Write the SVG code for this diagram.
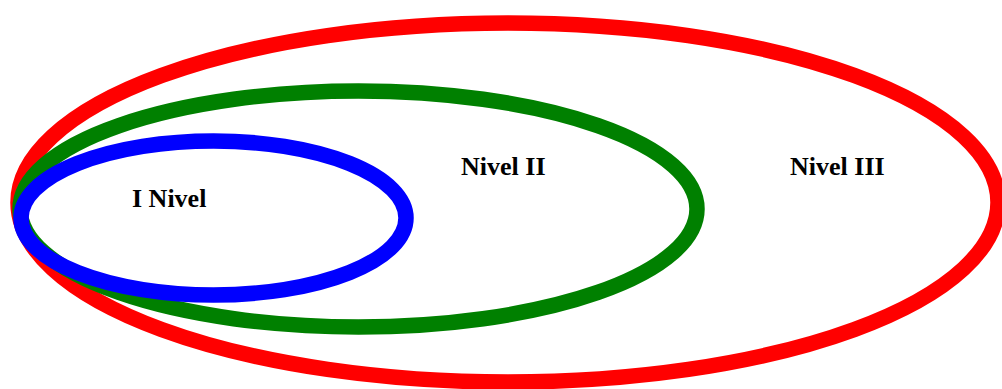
<svg xmlns="http://www.w3.org/2000/svg" width="1002" height="389" viewBox="0 0 1002 389">
<style>
.ring{fill:none;stroke-width:15.5}
.lbl{font-family:"Liberation Serif","Times New Roman",serif;font-weight:bold;font-size:26px;fill:#000}
</style>
<rect width="1002" height="389" fill="#fff"/>
<g id="nivel3">
<ellipse class="ring" cx="508" cy="202.5" rx="490" ry="179.5" stroke="#ff0000"/>
<text class="lbl" x="790" y="175">Nivel III</text>
</g>
<g id="nivel2">
<ellipse class="ring" cx="358.5" cy="209" rx="338.5" ry="118" stroke="#008000"/>
<text class="lbl" x="461" y="175">Nivel II</text>
</g>
<g id="nivel1">
<ellipse class="ring" cx="213.5" cy="218" rx="192.5" ry="77" stroke="#0000ff"/>
<text class="lbl" x="132" y="207">I Nivel</text>
</g>
<g id="connectors"/>
</svg>
